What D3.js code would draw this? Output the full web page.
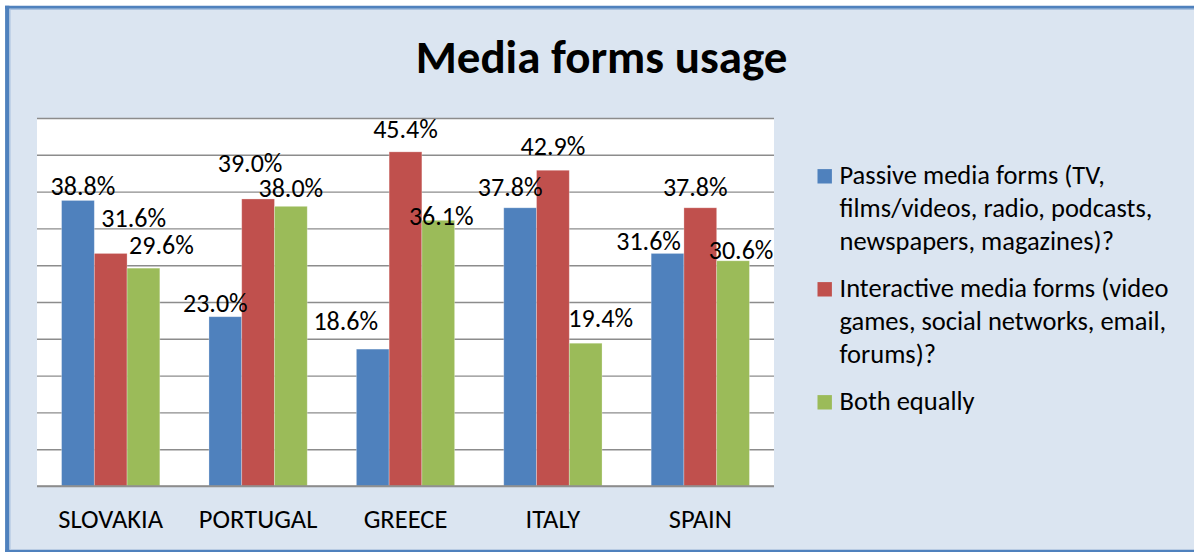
<!DOCTYPE html>
<html>
<head>
<meta charset="utf-8">
<script src="https://cdn.jsdelivr.net/npm/d3@7"></script>
<style>
  html, body { margin: 0; padding: 0; background: #ffffff; }
  svg { display: block; }
  text { font-family: Carlito, Lato, "Open Sans", sans-serif; fill: #000; }
</style>
</head>
<body>
<svg id="chart" width="1194" height="552"></svg>
<script>
// ---- data ----
const categories = ["SLOVAKIA", "PORTUGAL", "GREECE", "ITALY", "SPAIN"];
const seriesNames = [
  "Passive media forms (TV, films/videos, radio, podcasts, newspapers, magazines)?",
  "Interactive media forms (video games, social networks, email, forums)?",
  "Both equally"
];
const legendLines = [
  ["Passive media forms (TV,", "films/videos, radio, podcasts,", "newspapers, magazines)?"],
  ["Interactive media forms (video", "games, social networks, email,", "forums)?"],
  ["Both equally"]
];
const passive     = [38.8, 23.0, 18.6, 37.8, 31.6];
const interactive = [31.6, 39.0, 45.4, 42.9, 37.8];
const both        = [29.6, 38.0, 36.1, 19.4, 30.6];
const yTicks = [0, 5, 10, 15, 20, 25, 30, 35, 40, 45, 50];

// hand-placed data label nudges: [dx from bar centre, baseline relative to bar top]
const labelNudge = [
  [[5, -5], [-10, -5], [-27, -19], [-10, -12], [-19, -3]],
  [[23, -26], [-8, -27], [0, -14], [0, -15], [-5, -12]],
  [[18, -14], [0, -9], [3, 5], [15, -16], [8, -2]]
];

const colors = ["#4F81BD", "#C0504D", "#9BBB59"];
const seriesValues = [passive, interactive, both];

// ---- layout ----
const svg = d3.select("#chart");
const W = 1194, H = 552;
const plot = { left: 37, right: 774, top: 118, bottom: 486 };

// frame: light fill, blue edge on top/left/bottom
svg.append("rect").attr("x", 0).attr("y", 0).attr("width", W).attr("height", H).attr("fill", "#ffffff");
svg.append("rect").attr("x", 5).attr("y", 6).attr("width", W - 5).attr("height", H - 6).attr("fill", "#DBE5F1");
svg.append("line").attr("x1", 5).attr("x2", W).attr("y1", 7.2).attr("y2", 7.2)
  .attr("stroke", "#4F81BD").attr("stroke-width", 3);
svg.append("line").attr("x1", 9.5).attr("x2", W).attr("y1", 9.3).attr("y2", 9.3)
  .attr("stroke", "#A9C1DF").attr("stroke-width", 1.2);
svg.append("line").attr("x1", 7.2).attr("x2", 7.2).attr("y1", 5.7).attr("y2", H)
  .attr("stroke", "#4F81BD").attr("stroke-width", 4.2);
svg.append("line").attr("x1", 9.9).attr("x2", 9.9).attr("y1", 8.7).attr("y2", 549)
  .attr("stroke", "#A9C1DF").attr("stroke-width", 1.2);
svg.append("line").attr("x1", 5).attr("x2", W).attr("y1", 551).attr("y2", 551)
  .attr("stroke", "#4F81BD").attr("stroke-width", 2.6);

// title
svg.append("text")
  .attr("x", 601.5).attr("y", 73)
  .attr("text-anchor", "middle")
  .style("font-weight", "bold").style("font-size", "47px")
  .text("Media forms usage");

// scales
const x0 = d3.scaleBand().domain(categories).range([plot.left, plot.right]);
const step = x0.bandwidth();
const x1 = d3.scaleBand().domain(d3.range(seriesNames.length)).range([step / 6, step * 5 / 6]);
const y = d3.scaleLinear().domain([0, 50]).range([plot.bottom, plot.top]);

// plot area background
svg.append("rect")
  .attr("x", plot.left).attr("y", plot.top)
  .attr("width", plot.right - plot.left).attr("height", plot.bottom - plot.top)
  .attr("fill", "#ffffff");

// gridlines
const grid = svg.append("g")
  .attr("transform", `translate(${plot.left},0)`)
  .call(d3.axisLeft(y).tickValues(yTicks).tickSize(-(plot.right - plot.left)).tickFormat(""));
grid.select(".domain").remove();
grid.selectAll(".tick line").attr("stroke", "#8C8C8C").attr("stroke-width", 1.4);

// bars
const groups = svg.append("g").selectAll("g")
  .data(categories)
  .join("g")
  .attr("transform", d => `translate(${x0(d)},0)`);

groups.selectAll("rect")
  .data((c, ci) => seriesValues.map((vals, si) => ({ si, ci, v: vals[ci] })))
  .join("rect")
  .attr("x", d => x1(d.si))
  .attr("width", x1.bandwidth())
  .attr("y", d => y(d.v))
  .attr("height", d => y(0) - y(d.v))
  .attr("fill", d => colors[d.si])
  .attr("stroke", "rgba(255,255,255,0.35)")
  .attr("stroke-width", 0.8);

// baseline
svg.append("line")
  .attr("x1", plot.left).attr("x2", plot.right)
  .attr("y1", y(0)).attr("y2", y(0))
  .attr("stroke", "#8C8C8C").attr("stroke-width", 1.6);

// data labels
const fmt = d3.format(".1f");
groups.selectAll("text.val")
  .data((c, ci) => seriesValues.map((vals, si) => ({ si, ci, v: vals[ci] })))
  .join("text")
  .attr("class", "val")
  .attr("text-anchor", "middle")
  .attr("x", d => x1(d.si) + x1.bandwidth() / 2 + labelNudge[d.si][d.ci][0])
  .attr("y", d => y(d.v) + labelNudge[d.si][d.ci][1])
  .style("font-size", "26px")
  .text(d => fmt(d.v) + "%");

// category axis
const xAxis = svg.append("g")
  .attr("transform", `translate(0,${plot.bottom})`)
  .call(d3.axisBottom(x0).tickSize(0));
xAxis.select(".domain").remove();
xAxis.selectAll("text")
  .attr("y", 42).attr("dy", 0)
  .attr("fill", "#000")
  .style("font-size", "26.5px")
  .style("font-family", "Carlito, Lato, sans-serif");

// legend
const legend = svg.append("g");
let cursor = 183.5;
legendLines.forEach((lines, i) => {
  legend.append("rect")
    .attr("x", 817.5).attr("y", cursor - 14.4)
    .attr("width", 14.4).attr("height", 14.4)
    .attr("fill", colors[i]);
  const t = legend.append("text")
    .attr("x", 839.5).attr("y", cursor)
    .style("font-size", "26.5px");
  lines.forEach((ln, j) => {
    t.append("tspan").attr("x", 839.5).attr("y", cursor + j * 33).text(ln);
  });
  cursor += lines.length * 33 + 14;
});
</script>
</body>
</html>
